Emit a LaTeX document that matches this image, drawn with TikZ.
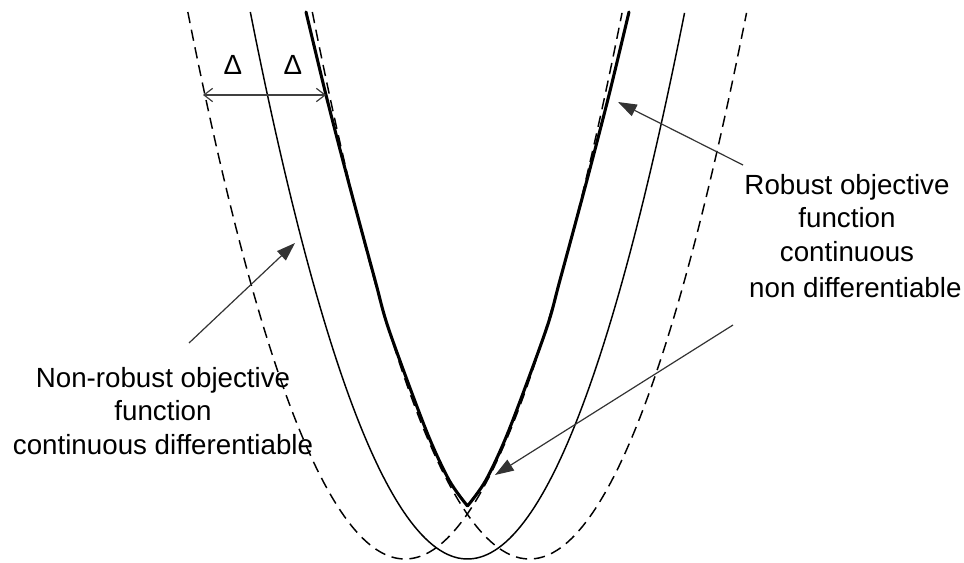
\documentclass[tikz,border=0pt]{standalone}
\usepackage{fontspec}
\setmainfont{Liberation Sans}
\usetikzlibrary{arrows.meta}
\begin{document}
\begin{tikzpicture}[x=0.75pt,y=-0.75pt,
  curve/.style={line width=1.1pt},
  dashcurve/.style={line width=1.1pt, dash pattern=on 8.5pt off 5pt},
  robust/.style={line width=2.3pt, line cap=round, line join=round},
  lbl/.style={font=\fontsize{20.8}{25}\selectfont, align=center, inner sep=0pt},
  pointer/.style={line width=0.9pt, draw=black!80, -{Triangle[length=14pt,width=9.5pt]}},
  deltaarrow/.style={line width=0.9pt, draw=black!75, {Straight Barb[length=6.5pt,width=10pt]}-{Straight Barb[length=6.5pt,width=10pt]}}]
\useasboundingbox (0,0) rectangle (964,563);
% non-robust objective (middle)
\draw[curve] plot[domain=-1:1, samples=120] ({467.5+217.2*\x},{559-547*\x*\x});
% shifted copies (dashed)
\draw[dashcurve] plot[domain=-1:1, samples=120] ({405+217.2*\x},{559-547*\x*\x});
\draw[dashcurve] plot[domain=-1:1, samples=120] ({529.5+217.2*\x},{559-547*\x*\x});
% robust objective (thick)
\draw[robust] plot[smooth] coordinates {(306,12) (326,95) (348,180) (375,280) (389,330) (426,430) (449,480) (467.5,506)}
  plot[smooth] coordinates {(467.5,506) (486,480) (509,430) (546,330) (560,280) (587,180) (609,95) (629,12)};
% Delta annotation
\coordinate (dl) at (203,95);
\coordinate (dr) at (326,95);
\draw[deltaarrow] (dl) -- (dr);
\node[lbl] (d1) at (233,65) {Δ};
\node[lbl] (d2) at (293,65) {Δ};
% labels
\node[lbl] (tl) at (163,411) {Non-robust objective\\function\\continuous differentiable};
\node[lbl] (tr) at (847,236) {Robust objective\\function\\continuous\\[2pt]\hspace*{0.6em}non differentiable};
% pointers
\coordinate (a1s) at (189,343);
\coordinate (a1e) at (295,243);
\coordinate (a2s) at (743,165);
\coordinate (a2e) at (618,102);
\coordinate (a3s) at (733,325);
\coordinate (a3e) at (495,475);
\draw[pointer] (a1s) -- (a1e);
\draw[pointer] (a2s) -- (a2e);
\draw[pointer] (a3s) -- (a3e);
\end{tikzpicture}
\end{document}
